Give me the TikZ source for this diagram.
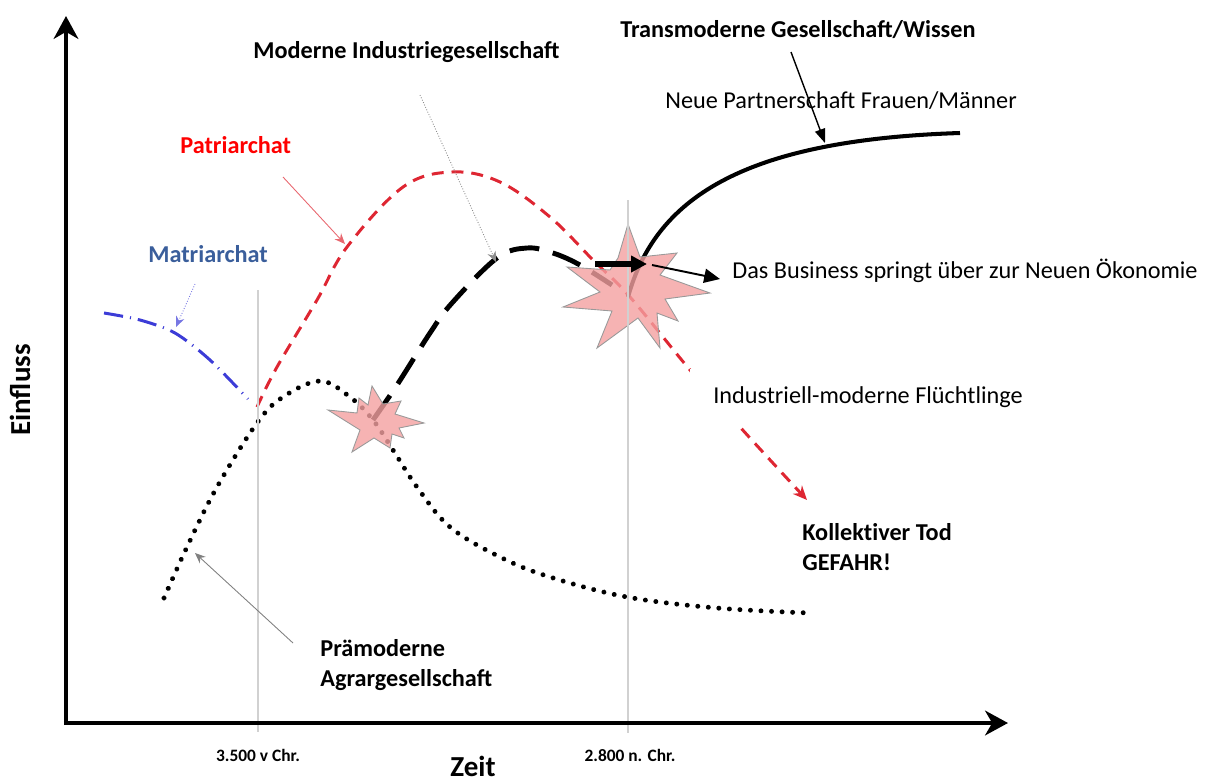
\documentclass[tikz,border=0pt]{standalone}
\usepackage{fontspec}
\setmainfont{Carlito}
\usetikzlibrary{arrows.meta}

\definecolor{patred}{RGB}{222,38,50}
\definecolor{matblue}{RGB}{58,94,155}
\definecolor{lineblue}{RGB}{60,60,215}
\definecolor{boompink}{RGB}{244,160,160}
\newcommand{\txtnorm}{\fontsize{13.8}{17}\selectfont}
\newcommand{\txtaxis}{\fontsize{16.5}{20}\selectfont\bfseries}
\newcommand{\txttick}{\fontsize{9.9}{12}\selectfont\bfseries}

\tikzset{
  axisline/.style={line width=2.3pt,-{Stealth[length=13pt,width=14pt,inset=4pt]}},
  epochline/.style={black!18,line width=0.9pt},
  agrar/.style={line width=2.8pt,line cap=round,dash pattern=on 0.01pt off 6pt},
  patri/.style={patred,line width=1.7pt,dash pattern=on 6.8pt off 4.5pt},
  matri/.style={lineblue,line width=1.7pt,dash pattern=on 11pt off 4pt on 0.6pt off 4pt},
  indus/.style={line width=2.8pt,dash pattern=on 17pt off 8pt},
  trans/.style={line width=2.3pt},
  boom/.style={fill=boompink,fill opacity=0.8,draw=black!40,line width=0.5pt},
  hint/.style={line width=0.5pt,-{Stealth[length=6pt,width=5pt]}},
  txt/.style={inner sep=0pt,anchor=west,font=\txtnorm},
  txtb/.style={txt,font=\txtnorm\bfseries}
}

\begin{document}
\begin{tikzpicture}[x=0.02cm,y=-0.02cm]
\useasboundingbox (0,0) rectangle (1211,782);

\draw[agrar] plot[smooth,tension=0.6] coordinates {(164,598) (187,547) (217,487) (257,423) (283,397) (320,381) (350,397) (373,420) (393,450) (417,487) (450,527) (500,557) (550,577) (627,597) (717,608) (810,613)};
\draw[matri] plot[smooth] coordinates {(104,313) (140,320) (175,333) (210,360) (248,399)};
\draw[patri,-{Stealth[length=8pt,width=7pt]}] plot[smooth,tension=0.6] coordinates {(257,407) (277,367) (317,300) (347,247) (403,187) (452,172) (500,182) (550,217) (593,260) (630,297) (690,370) (740,427) (807,500)};
\draw[indus] plot[smooth,tension=0.6] coordinates {(373,420) (397,385) (430,333) (452,303) (497,258) (527,248) (553,253) (580,265) (612,285)};
\draw[trans] (628,297) .. controls (655,200) and (740,140) .. (960,133);

\draw[boom] (372,386) -- (383,404) -- (401,401) -- (395,414) -- (424,423) -- (399,428) -- (404,438) -- (392,434) -- (390,448) -- (374,438) -- (352,452) -- (360,430) -- (328,410) -- (357,413) -- (359,398) -- (368,405) -- cycle;
\draw[boom] (628,224) -- (640,257) -- (677,253) -- (660,275) -- (710,293) -- (665,299) -- (678,321) -- (657,313) -- (660,348) -- (638,318) -- (597,348) -- (612,311) -- (563,307) -- (600,292) -- (567,267) -- (610,270) -- (618,258) -- cycle;

\draw[epochline] (258,290) -- (258,732);
\draw[epochline] (628,200) -- (628,733);

\coordinate (jumpfrom) at (595,264);
\coordinate (jumpto) at (647,264);
\coordinate (bizfrom) at (652,265);
\coordinate (bizto) at (720,279);
\draw[line width=3.4pt,-{Triangle[length=9pt,width=9pt]}] (jumpfrom) -- (jumpto);
\draw[line width=1.1pt,-{Triangle[length=9pt,width=8pt]}] (bizfrom) -- (bizto);

\coordinate (origin) at (66,723);
\coordinate (ytop) at (66,16);
\coordinate (xend) at (1008,723);
\draw[axisline] ([yshift=-1.15pt]origin) -- (ytop);
\draw[axisline] ([xshift=-1.15pt]origin) -- (xend);

\node[txtb] (industrie) at (253,52) {Moderne Industriegesellschaft};
\node[txtb] (transmod) at (620,30) {Transmoderne Gesellschaft/Wissen};
\node[txt] (partner) at (665,101) {Neue Partnerschaft Frauen/Männer};
\node[txtb,text=red] (patriarchat) at (180,145) {Patriarchat};
\node[txtb,text=matblue] (matriarchat) at (148,254) {Matriarchat};
\node[txt] (business) at (732,271) {Das Business springt über zur Neuen Ökonomie};
\node[txt,fill=white,inner xsep=0.46cm,minimum height=1.14cm] (fluechtlinge) at (690,397) {Industriell-moderne Flüchtlinge};
\node[txtb,align=left] (tod) at (802,547) {Kollekt\kern0pt iver Tod\\GEFAHR!};
\node[txtb,align=left] (agrar) at (320,665) {Prämoderne\\Agrargesellschaft};
\node[inner sep=0pt,font=\txtaxis,rotate=90] (einfluss) at (20,390) {Einfluss};
\node[inner sep=0pt,font=\txtaxis] (zeit) at (473,766) {Zeit};
\node[inner sep=0pt,font=\txttick] (bc) at (258,755) {3.500 v Chr.};
\node[inner sep=0pt,font=\txttick] (ad) at (630,755) {2.800 n. Chr.};

\coordinate (transfrom) at (791,52);
\coordinate (transto) at (825,143);
\draw[line width=0.8pt,-{Triangle[length=8pt,width=6pt]}] (transfrom) -- (transto);
\coordinate (patfrom) at (283,177);
\coordinate (patto) at (345,244);
\draw[hint,patred!70] (patfrom) -- (patto);
\coordinate (matfrom) at (195,284);
\coordinate (matto) at (176,327);
\draw[hint,lineblue!70,densely dotted] (matfrom) -- (matto);
\coordinate (indfrom) at (420,95);
\coordinate (indto) at (496,262);
\draw[hint,black!45,densely dotted] (indfrom) -- (indto);
\coordinate (agrfrom) at (293,643);
\coordinate (agrto) at (195,553);
\draw[hint,black!50] (agrfrom) -- (agrto);
\end{tikzpicture}
\end{document}
